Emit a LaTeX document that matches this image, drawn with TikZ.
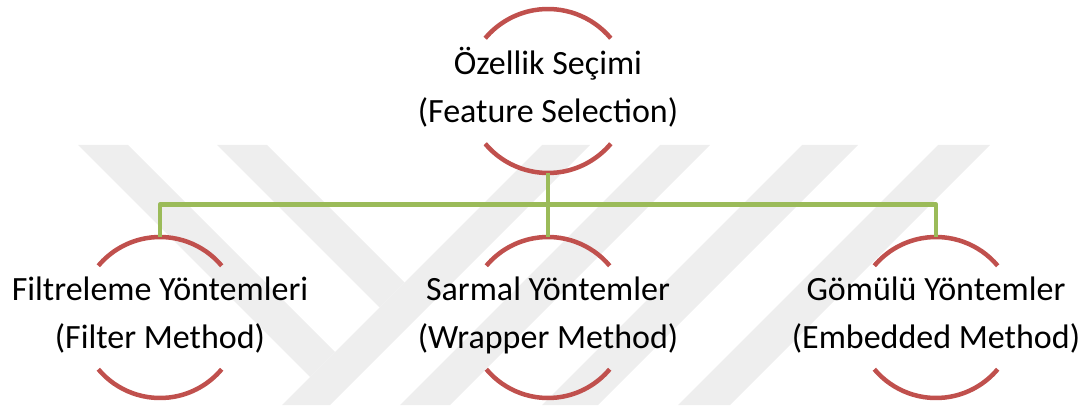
\documentclass[tikz,border=0pt]{standalone}
\usepackage{fontspec}
\setmainfont{Carlito}
\definecolor{arcred}{HTML}{C0504D}
\definecolor{linkgreen}{HTML}{9BBB59}
\definecolor{wmgray}{HTML}{EEEEEE}
\begin{document}
\begin{tikzpicture}[x=1pt,y=1pt,
  lbl/.style={font=\fontsize{34}{40}\selectfont, anchor=base, inner sep=0pt},
  ring/.style={circle, minimum size=#1, inner sep=0pt, outer sep=0pt},
  arcline/.style={draw=arcred, line width=4.5pt},
  conn/.style={draw=linkgreen, line width=4.5pt, line join=round},
  wm/.style={fill=wmgray}]
\useasboundingbox (0,0) rectangle (1087,405);
% watermark
\fill[wm] (78,260) -- (128,260) -- (335,53) -- (310,28) -- cycle;
\fill[wm] (217,260) -- (267,260) -- (404.5,122.5) -- (379.5,97.5) -- cycle;
\fill[wm] (542,260) -- (590,260) -- (330,0) -- (282,0) -- cycle;
\fill[wm] (660,260) -- (710,260) -- (450,0) -- (400,0) -- cycle;
\fill[wm] (802,260) -- (858,260) -- (598,0) -- (542,0) -- cycle;
\fill[wm] (938,260) -- (990,260) -- (730,0) -- (678,0) -- cycle;
% top node
\node[ring=164pt] (fsc) at (548,314) {};
\node[lbl] (fs1) at (548,330) {Özellik Seçimi};
\node[lbl] (fs2) at (548,282) {(Feature Selection)};
\draw[arcline] (fsc.40) arc[start angle=40,end angle=140,radius=82pt];
\draw[arcline] (fsc.220) arc[start angle=220,end angle=320,radius=82pt];
% children
\node[ring=161pt] (flc) at (160,87.5) {};
\node[lbl] (fl1) at (160,105) {Filtreleme Yöntemleri};
\node[lbl] (fl2) at (160,57) {(Filter Method)};
\draw[arcline] (flc.40) arc[start angle=40,end angle=140,radius=80.5pt];
\draw[arcline] (flc.220) arc[start angle=220,end angle=320,radius=80.5pt];
\node[ring=161pt] (wrc) at (548,87.5) {};
\node[lbl] (wr1) at (548,105) {Sarmal Yöntemler};
\node[lbl] (wr2) at (548,57) {(Wrapper Method)};
\draw[arcline] (wrc.40) arc[start angle=40,end angle=140,radius=80.5pt];
\draw[arcline] (wrc.220) arc[start angle=220,end angle=320,radius=80.5pt];
\node[ring=161pt] (emc) at (936,87.5) {};
\node[lbl] (em1) at (936,105) {Gömülü Yöntemler};
\node[lbl] (em2) at (936,57) {(Embedded Method)};
\draw[arcline] (emc.40) arc[start angle=40,end angle=140,radius=80.5pt];
\draw[arcline] (emc.220) arc[start angle=220,end angle=320,radius=80.5pt];
% connectors
\coordinate (bus) at (548,200.5);
\draw[conn] (fsc.south) -- (wrc.north);
\draw[conn] (flc.north) -- (flc.north |- bus) -- (emc.north |- bus) -- (emc.north);
\end{tikzpicture}
\end{document}
